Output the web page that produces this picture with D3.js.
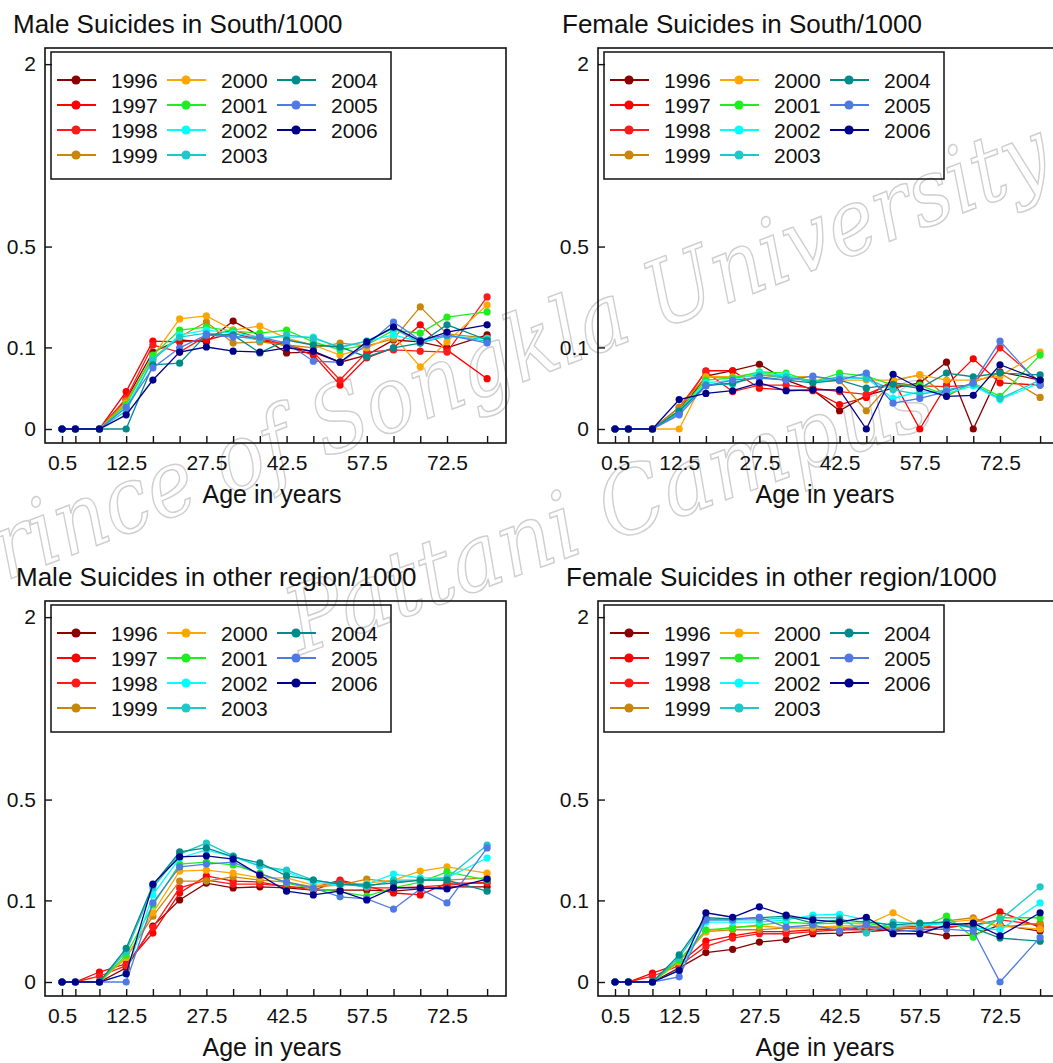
<!DOCTYPE html>
<html>
<head>
<meta charset="utf-8">
<script src="https://cdn.jsdelivr.net/npm/d3@7"></script>
<style>
  body { margin: 0; background: #fff; }
  svg text { font-family: "Liberation Sans", Arial, sans-serif; }
</style>
</head>
<body>
<svg id="chart" width="1053" height="1063"></svg>
<script>
// age group mid points (x), years (series)
var ages = [0.5, 3, 7.5, 12.5, 17.5, 22.5, 27.5, 32.5, 37.5, 42.5, 47.5, 52.5, 57.5, 62.5, 67.5, 72.5, 80];
var years = [1996, 1997, 1998, 1999, 2000, 2001, 2002, 2003, 2004, 2005, 2006];
var xTickLabels = [0.5, 12.5, 27.5, 42.5, 57.5, 72.5];
var yTickValues = [0, 0.1, 0.5, 2];

// suicides per 1000, one row per year
var maleSouth = [
  [0,0,0,0.013,0.089,0.119,0.114,0.175,0.130,0.087,0.089,0.067,0.082,0.119,0.114,0.099,0.133],
  [0,0,0,0.021,0.116,0.114,0.119,0.138,0.119,0.104,0.082,0.029,0.076,0.099,0.163,0.094,0.038],
  [0,0,0,0.014,0.106,0.089,0.130,0.147,0.124,0.106,0.089,0.036,0.089,0.094,0.091,0.089,0.262],
  [0,0,0,0.012,0.076,0.127,0.172,0.111,0.114,0.106,0.099,0.111,0.104,0.122,0.224,0.136,0.124],
  [0,0,0,0.010,0.080,0.182,0.192,0.147,0.159,0.124,0.106,0.082,0.099,0.130,0.058,0.114,0.231],
  [0,0,0,0.009,0.082,0.147,0.156,0.144,0.138,0.147,0.114,0.094,0.106,0.147,0.138,0.188,0.206],
  [0,0,0,0.007,0.072,0.133,0.147,0.138,0.127,0.127,0.127,0.099,0.116,0.133,0.114,0.130,0.122],
  [0,0,0,0.005,0.072,0.127,0.138,0.130,0.119,0.133,0.124,0.101,0.116,0.153,0.111,0.130,0.116],
  [0,0,0,0,0.062,0.065,0.133,0.133,0.087,0.119,0.106,0.101,0.078,0.099,0.111,0.163,0.119],
  [0,0,0,0.007,0.056,0.099,0.133,0.127,0.127,0.111,0.069,0.067,0.106,0.172,0.119,0.133,0.111],
  [0,0,0,0.003,0.036,0.089,0.101,0.091,0.089,0.099,0.091,0.067,0.114,0.156,0.116,0.141,0.163]
];
var femaleSouth = [
  [0,0,0,0.004,0.042,0.051,0.063,0.036,0.023,0.005,0.017,0.025,0.032,0.067,0,0.049,0.036],
  [0,0,0,0.005,0.051,0.051,0.025,0.023,0.022,0.009,0.015,0.036,0,0.029,0.074,0.032,0.029],
  [0,0,0,0.007,0.049,0.021,0.029,0.029,0.025,0.021,0.018,0.032,0.028,0.027,0.029,0.099,0.033],
  [0,0,0,0.007,0.041,0.039,0.044,0.039,0.036,0.035,0.005,0.035,0.044,0.016,0.033,0.047,0.015],
  [0,0,0,0,0.041,0.041,0.047,0.041,0.041,0.036,0.036,0.036,0.044,0.036,0.036,0.042,0.089],
  [0,0,0,0.005,0.036,0.039,0.049,0.047,0.033,0.047,0.042,0.029,0.029,0.017,0.032,0.016,0.082],
  [0,0,0,0.005,0.032,0.036,0.047,0.044,0.032,0.039,0.039,0.014,0.021,0.019,0.028,0.013,0.032],
  [0,0,0,0.004,0.030,0.030,0.044,0.041,0.033,0.041,0.038,0.023,0.018,0.023,0.030,0.014,0.036],
  [0,0,0,0.005,0.028,0.032,0.041,0.036,0.032,0.036,0.025,0.030,0.025,0.047,0.041,0.047,0.044],
  [0,0,0,0.003,0.028,0.036,0.039,0.036,0.042,0.036,0.047,0.010,0.014,0.021,0.032,0.116,0.029],
  [0,0,0,0.013,0.019,0.022,0.032,0.022,0.023,0.023,0,0.045,0.025,0.016,0.017,0.062,0.036]
];
var maleOther = [
  [0,0,0,0.003,0.047,0.101,0.147,0.133,0.136,0.133,0.127,0.127,0.127,0.124,0.130,0.136,0.136],
  [0,0,0.0015,0.005,0.036,0.119,0.169,0.153,0.150,0.136,0.133,0.156,0.138,0.119,0.114,0.147,0.147],
  [0,0,0.0005,0.004,0.045,0.133,0.156,0.144,0.144,0.138,0.127,0.153,0.133,0.133,0.136,0.141,0.150],
  [0,0,0,0.009,0.065,0.153,0.153,0.166,0.156,0.150,0.136,0.141,0.159,0.150,0.156,0.156,0.163],
  [0,0,0,0.009,0.072,0.185,0.188,0.178,0.163,0.163,0.141,0.141,0.147,0.156,0.185,0.199,0.178],
  [0,0,0,0.011,0.089,0.209,0.216,0.206,0.178,0.147,0.130,0.122,0.111,0.133,0.150,0.182,0.156],
  [0,0,0,0.001,0.114,0.231,0.262,0.235,0.202,0.182,0.150,0.141,0.144,0.175,0.163,0.163,0.231],
  [0,0,0,0.014,0.133,0.246,0.290,0.239,0.202,0.188,0.156,0.144,0.136,0.156,0.156,0.163,0.282],
  [0,0,0,0.017,0.141,0.254,0.270,0.235,0.213,0.169,0.156,0.144,0.141,0.147,0.156,0.156,0.124],
  [0,0,0,0,0.094,0.199,0.209,0.216,0.175,0.150,0.133,0.109,0.104,0.080,0.130,0.094,0.270],
  [0,0,0,0.001,0.144,0.235,0.239,0.227,0.172,0.124,0.114,0.124,0.101,0.133,0.133,0.130,0.159]
];
var femaleOther = [
  [0,0,0,0.003,0.013,0.016,0.024,0.027,0.035,0.036,0.038,0.041,0.038,0.032,0.033,0.049,0.039],
  [0,0,0.0012,0.005,0.025,0.032,0.038,0.038,0.041,0.042,0.044,0.044,0.047,0.044,0.052,0.074,0.045],
  [0,0,0.0005,0.004,0.019,0.029,0.035,0.035,0.038,0.041,0.041,0.042,0.044,0.045,0.049,0.058,0.049],
  [0,0,0,0.007,0.038,0.041,0.041,0.044,0.044,0.044,0.047,0.045,0.044,0.056,0.062,0.045,0.052],
  [0,0,0,0.006,0.038,0.045,0.047,0.044,0.045,0.047,0.049,0.072,0.047,0.054,0.058,0.047,0.042],
  [0,0,0,0.007,0.041,0.044,0.049,0.054,0.051,0.052,0.052,0.044,0.045,0.065,0.030,0.062,0.062],
  [0,0,0,0.002,0.054,0.054,0.054,0.058,0.067,0.069,0.058,0.047,0.049,0.051,0.044,0.041,0.094],
  [0,0,0,0.009,0.058,0.058,0.058,0.062,0.062,0.062,0.036,0.054,0.051,0.054,0.047,0.058,0.136],
  [0,0,0,0.011,0.062,0.060,0.062,0.065,0.052,0.058,0.054,0.049,0.052,0.054,0.044,0.029,0.025],
  [0,0,0,0.0004,0.058,0.058,0.063,0.045,0.049,0.039,0.049,0.038,0.041,0.042,0.039,0,0.030],
  [0,0,0,0.002,0.072,0.063,0.085,0.067,0.058,0.054,0.063,0.035,0.035,0.049,0.052,0.032,0.072]
];

var colors = ["#8b0000", "#ff0000", "#ff1a1a", "#c8860b", "#ffa500", "#1eee1e",
              "#00ffff", "#1ec8c8", "#008b8b", "#4f7ae6", "#00008b"];

var panels = [
  {title: "Male Suicides in South/1000", data: maleSouth, dx: 0, dy: 0, tx: 13},
  {title: "Female Suicides in South/1000", data: femaleSouth, dx: 553, dy: 0, tx: 9},
  {title: "Male Suicides in other region/1000", data: maleOther, dx: 0, dy: 553, tx: 16},
  {title: "Female Suicides in other region/1000", data: femaleOther, dx: 553, dy: 553, tx: 13}
];

var svg = d3.select("#chart");
svg.append("rect").attr("width", 1053).attr("height", 1063).attr("fill", "#fff");

// watermark, faint outline behind the panels
var wm = svg.append("g")
    .attr("fill", "none")
    .attr("stroke", "#cfcfcf")
    .attr("stroke-width", 1.5)
    .attr("font-style", "italic")
    .attr("font-size", 92);
wm.append("text")
    .attr("transform", "translate(-45,600) rotate(-21)")
    .attr("textLength", 1180)
    .attr("lengthAdjust", "spacingAndGlyphs")
    .style("font-family", "'DejaVu Serif', serif")
    .text("Prince of Songkla University");
wm.append("text")
    .attr("transform", "translate(300,655) rotate(-20)")
    .attr("textLength", 680)
    .attr("lengthAdjust", "spacingAndGlyphs")
    .style("font-family", "'DejaVu Serif', serif")
    .text("Pattani Campus");

var x = d3.scaleLinear().domain([0.5, 72.5]).range([62, 447]);
var y = d3.scaleSqrt().domain([0, 2]).range([429, 429 - 258 * Math.SQRT2]);

var line = d3.line()
    .x(function(d) { return x(d.age); })
    .y(function(d) { return y(d.v); });

panels.forEach(function(p) {
  var g = svg.append("g").attr("transform", "translate(" + p.dx + "," + p.dy + ")");

  g.append("text")
      .attr("x", p.tx).attr("y", 33)
      .attr("font-size", 26)
      .attr("fill", "#111")
      .text(p.title);

  // bottom axis: tick at every age group, labels on some
  var xa = g.append("g")
      .attr("transform", "translate(0,443)")
      .call(d3.axisBottom(x)
        .tickValues(ages)
        .tickSize(-7)
        .tickPadding(12)
        .tickFormat(function(d) { return xTickLabels.indexOf(d) >= 0 ? d : ""; }));
  xa.select(".domain").remove();
  xa.attr("font-size", 21);
  xa.selectAll("line").attr("stroke", "#111").attr("stroke-width", 1.4);
  xa.selectAll("text").attr("fill", "#111");

  var ya = g.append("g")
      .attr("transform", "translate(45,0)")
      .call(d3.axisLeft(y)
        .tickValues(yTickValues)
        .tickSize(-7)
        .tickPadding(9)
        .tickFormat(function(d) { return String(d); }));
  ya.select(".domain").remove();
  ya.attr("font-size", 21);
  ya.selectAll("line").attr("stroke", "#111").attr("stroke-width", 1.4);
  ya.selectAll("text").attr("fill", "#111");

  g.append("rect")
      .attr("x", 45).attr("y", 48)
      .attr("width", 461).attr("height", 395)
      .attr("fill", "none")
      .attr("stroke", "#111")
      .attr("stroke-width", 1.6);

  g.append("text")
      .attr("x", 272).attr("y", 503)
      .attr("text-anchor", "middle")
      .attr("font-size", 25)
      .attr("fill", "#111")
      .text("Age in years");

  // series
  p.data.forEach(function(row, i) {
    var pts = ages.map(function(a, j) { return {age: a, v: row[j]}; });
    g.append("path")
        .datum(pts)
        .attr("fill", "none")
        .attr("stroke", colors[i])
        .attr("stroke-width", 1.3)
        .attr("d", line);
    g.append("g").selectAll("circle")
        .data(pts)
        .enter().append("circle")
        .attr("cx", function(d) { return x(d.age); })
        .attr("cy", function(d) { return y(d.v); })
        .attr("r", 3.6)
        .attr("fill", colors[i]);
  });

  // legend
  var lg = g.append("g").attr("transform", "translate(51,52)");
  lg.append("rect")
      .attr("width", 340).attr("height", 127)
      .attr("fill", "none")
      .attr("stroke", "#111")
      .attr("stroke-width", 1.5);
  years.forEach(function(yr, i) {
    var cx = 6 + Math.floor(i / 4) * 110;
    var cy = 28 + (i % 4) * 25;
    lg.append("line")
        .attr("x1", cx).attr("x2", cx + 39)
        .attr("y1", cy).attr("y2", cy)
        .attr("stroke", colors[i]).attr("stroke-width", 2);
    lg.append("circle")
        .attr("cx", cx + 19).attr("cy", cy).attr("r", 4.6)
        .attr("fill", colors[i]);
    lg.append("text")
        .attr("x", cx + 54).attr("y", cy + 8)
        .attr("font-size", 21)
        .attr("fill", "#111")
        .text(yr);
  });
});
</script>
</body>
</html>
